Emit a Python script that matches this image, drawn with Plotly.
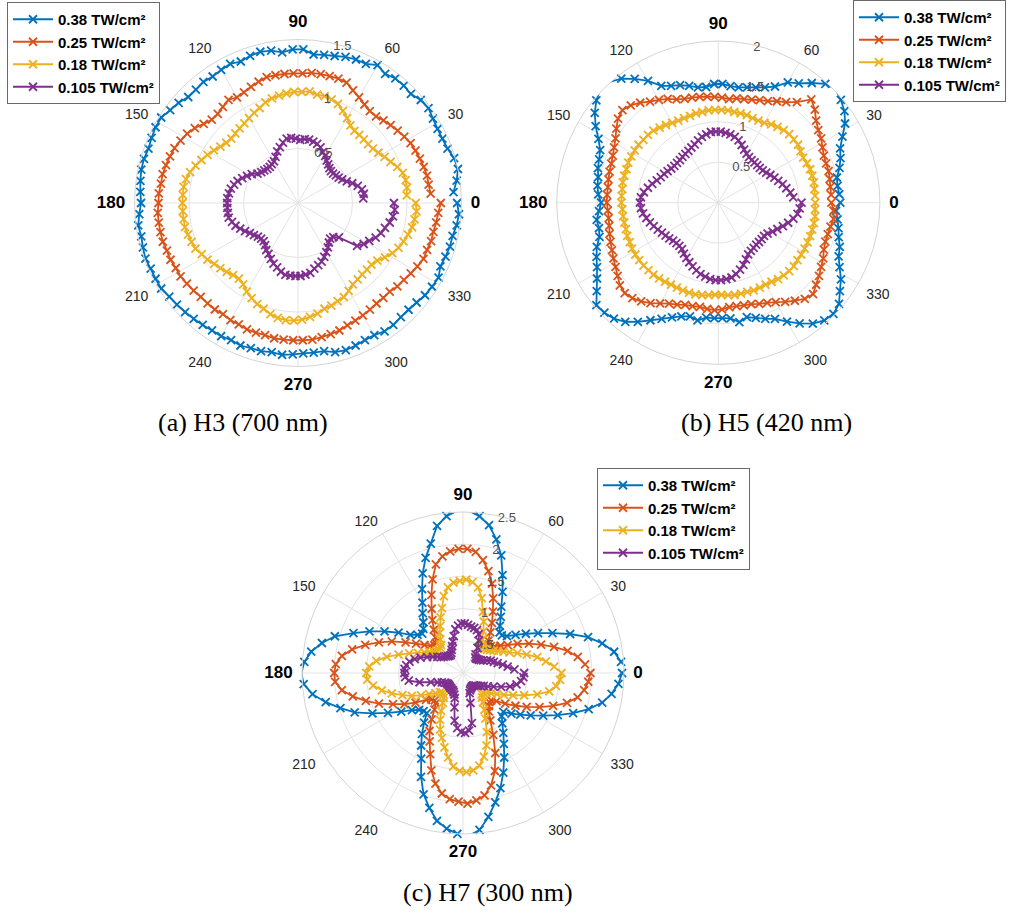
import plotly.graph_objects as go

# Measurement angles (degrees)
ANGLES = list(range(4, 361, 4))

SERIES_NAMES = ["0.38 TW/cm²", "0.25 TW/cm²", "0.18 TW/cm²", "0.105 TW/cm²"]
COLORS = ["#0072BD", "#D95319", "#EDB120", "#7E2F8E"]

# ---------------- (a) H3 (700 nm) ----------------
H3_038 = [1.43, 1.47, 1.50, 1.49, 1.46, 1.45, 1.45, 1.46, 1.48, 1.47,
          1.44, 1.45, 1.45, 1.43, 1.46, 1.42, 1.42, 1.41, 1.39, 1.38,
          1.37, 1.41, 1.41, 1.39, 1.42, 1.43, 1.42, 1.40, 1.42, 1.41,
          1.40, 1.41, 1.40, 1.40, 1.43, 1.45, 1.48, 1.48, 1.47, 1.46,
          1.47, 1.47, 1.46, 1.45, 1.44, 1.46, 1.48, 1.47, 1.48, 1.49,
          1.48, 1.48, 1.48, 1.46, 1.45, 1.44, 1.43, 1.42, 1.41, 1.41,
          1.40, 1.41, 1.40, 1.40, 1.39, 1.40, 1.39, 1.38, 1.38, 1.38,
          1.41, 1.42, 1.41, 1.40, 1.40, 1.42, 1.42, 1.41, 1.41, 1.42,
          1.44, 1.45, 1.46, 1.43, 1.44, 1.45, 1.45, 1.47, 1.48, 1.46]
H3_025 = [1.22, 1.21, 1.21, 1.20, 1.19, 1.18, 1.17, 1.15, 1.13, 1.11,
          1.09, 1.07, 1.07, 1.09, 1.12, 1.15, 1.19, 1.20, 1.20, 1.20,
          1.20, 1.19, 1.19, 1.19, 1.19, 1.19, 1.17, 1.15, 1.13, 1.12,
          1.14, 1.12, 1.10, 1.10, 1.13, 1.17, 1.20, 1.22, 1.24, 1.25,
          1.26, 1.27, 1.27, 1.28, 1.28, 1.29, 1.29, 1.29, 1.29, 1.28,
          1.28, 1.27, 1.27, 1.26, 1.25, 1.24, 1.24, 1.24, 1.23, 1.24,
          1.24, 1.25, 1.25, 1.25, 1.26, 1.26, 1.26, 1.26, 1.26, 1.25,
          1.24, 1.23, 1.21, 1.20, 1.19, 1.18, 1.17, 1.17, 1.17, 1.19,
          1.20, 1.22, 1.24, 1.26, 1.26, 1.27, 1.27, 1.28, 1.29, 1.31]
H3_018 = [1.00, 1.01, 1.01, 1.00, 0.97, 0.93, 0.90, 0.87, 0.85, 0.84,
          0.84, 0.84, 0.84, 0.86, 0.90, 0.94, 0.98, 1.00, 1.01, 1.01,
          1.03, 1.02, 1.02, 1.01, 1.00, 0.99, 0.97, 0.94, 0.92, 0.90,
          0.88, 0.87, 0.86, 0.85, 0.86, 0.88, 0.91, 0.94, 0.97, 1.00,
          1.03, 1.05, 1.06, 1.06, 1.06, 1.06, 1.06, 1.06, 1.05, 1.04,
          1.03, 1.00, 0.98, 0.95, 0.93, 0.91, 0.89, 0.88, 0.90, 0.94,
          0.97, 1.00, 1.02, 1.05, 1.07, 1.08, 1.08, 1.07, 1.05, 1.03,
          1.00, 0.99, 0.97, 0.96, 0.93, 0.90, 0.89, 0.88, 0.88, 0.88,
          0.90, 0.94, 0.98, 1.01, 1.03, 1.05, 1.07, 1.08, 1.09, 1.08]
H3_0105 = [0.60, 0.61, 0.60, 0.57, 0.53, 0.49, 0.46, 0.44, 0.43, 0.42,
           0.42, 0.43, 0.45, 0.47, 0.50, 0.52, 0.55, 0.57, 0.58, 0.59,
           0.59, 0.58, 0.59, 0.60, 0.60, 0.57, 0.54, 0.51, 0.47, 0.44,
           0.43, 0.42, 0.42, 0.43, 0.44, 0.46, 0.50, 0.53, 0.56, 0.59,
           0.61, 0.63, 0.64, 0.65, 0.65, 0.65, 0.65, 0.65, 0.63, 0.61,
           0.58, 0.55, 0.52, 0.50, 0.48, 0.47, 0.47, 0.49, 0.52, 0.54,
           0.57, 0.60, 0.62, 0.65, 0.67, 0.67, 0.67, 0.67, 0.66, 0.65,
           0.62, 0.60, 0.58, 0.55, 0.52, 0.49, 0.46, 0.44, 0.45, 0.49,
           0.67, 0.71, 0.74, 0.78, 0.81, 0.83, 0.86, 0.88, 0.89, 0.88]

# ---------------- (b) H5 (420 nm) ----------------
H5_038 = [1.50, 1.49, 1.50, 1.56, 1.61, 1.65, 1.74, 1.85, 1.93, 1.98,
          2.02, 1.98, 1.88, 1.78, 1.72, 1.60, 1.54, 1.50, 1.47, 1.45,
          1.45, 1.47, 1.47, 1.44, 1.45, 1.49, 1.53, 1.56, 1.61, 1.74,
          1.85, 1.95, 2.01, 2.03, 1.97, 1.89, 1.79, 1.68, 1.60, 1.57,
          1.55, 1.52, 1.51, 1.49, 1.45, 1.48, 1.52, 1.51, 1.53, 1.60,
          1.65, 1.70, 1.77, 1.86, 1.97, 1.96, 1.93, 1.87, 1.78, 1.68,
          1.60, 1.53, 1.48, 1.45, 1.48, 1.43, 1.43, 1.43, 1.44, 1.50,
          1.46, 1.50, 1.55, 1.60, 1.70, 1.80, 1.90, 1.96, 1.98, 1.95,
          1.86, 1.79, 1.70, 1.63, 1.60, 1.55, 1.52, 1.49, 1.46, 1.51]
H5_025 = [1.40, 1.40, 1.41, 1.42, 1.42, 1.43, 1.46, 1.50, 1.53, 1.58,
          1.66, 1.72, 1.58, 1.50, 1.45, 1.40, 1.37, 1.34, 1.32, 1.31,
          1.29, 1.30, 1.31, 1.32, 1.33, 1.34, 1.35, 1.38, 1.43, 1.47,
          1.51, 1.57, 1.62, 1.65, 1.62, 1.56, 1.50, 1.46, 1.43, 1.41,
          1.40, 1.39, 1.38, 1.38, 1.38, 1.37, 1.37, 1.38, 1.40, 1.42,
          1.44, 1.47, 1.50, 1.54, 1.59, 1.61, 1.59, 1.55, 1.50, 1.44,
          1.39, 1.36, 1.33, 1.32, 1.31, 1.32, 1.33, 1.32, 1.30, 1.30,
          1.31, 1.32, 1.35, 1.38, 1.42, 1.48, 1.54, 1.60, 1.63, 1.58,
          1.54, 1.50, 1.47, 1.43, 1.41, 1.41, 1.42, 1.44, 1.43, 1.40]
H5_018 = [1.20, 1.20, 1.21, 1.21, 1.21, 1.20, 1.19, 1.20, 1.22, 1.22,
          1.22, 1.21, 1.19, 1.17, 1.14, 1.13, 1.13, 1.14, 1.14, 1.14,
          1.15, 1.15, 1.15, 1.15, 1.14, 1.14, 1.13, 1.13, 1.13, 1.14,
          1.16, 1.18, 1.20, 1.21, 1.21, 1.22, 1.22, 1.22, 1.22, 1.21,
          1.21, 1.21, 1.20, 1.20, 1.20, 1.19, 1.19, 1.19, 1.19, 1.20,
          1.20, 1.21, 1.21, 1.21, 1.21, 1.20, 1.20, 1.19, 1.18, 1.17,
          1.17, 1.17, 1.17, 1.17, 1.16, 1.15, 1.14, 1.14, 1.15, 1.16,
          1.16, 1.16, 1.17, 1.17, 1.17, 1.18, 1.20, 1.21, 1.22, 1.22,
          1.21, 1.21, 1.21, 1.21, 1.21, 1.21, 1.21, 1.21, 1.20, 1.20]
H5_0105 = [0.93, 0.90, 0.86, 0.83, 0.79, 0.76, 0.73, 0.70, 0.68, 0.67,
           0.67, 0.67, 0.67, 0.68, 0.70, 0.73, 0.77, 0.81, 0.84, 0.86,
           0.87, 0.88, 0.88, 0.88, 0.86, 0.84, 0.81, 0.78, 0.76, 0.74,
           0.73, 0.72, 0.71, 0.71, 0.71, 0.72, 0.74, 0.76, 0.78, 0.81,
           0.85, 0.89, 0.93, 0.96, 0.97, 0.96, 0.94, 0.91, 0.88, 0.85,
           0.82, 0.79, 0.77, 0.75, 0.73, 0.72, 0.72, 0.73, 0.76, 0.79,
           0.82, 0.85, 0.88, 0.91, 0.93, 0.95, 0.96, 0.96, 0.95, 0.94,
           0.91, 0.87, 0.83, 0.78, 0.74, 0.72, 0.71, 0.70, 0.70, 0.70,
           0.70, 0.72, 0.76, 0.80, 0.85, 0.90, 0.95, 0.99, 1.01, 1.03]

# ---------------- (c) H7 (300 nm) ----------------
H7_038 = [2.46, 2.37, 2.21, 2.02, 1.77, 1.52, 1.32, 1.15, 1.01, 0.89,
          0.84, 0.85, 0.93, 1.05, 1.19, 1.40, 1.64, 1.92, 2.14, 2.33,
          2.45, 2.52, 2.52, 2.45, 2.32, 2.07, 1.88, 1.67, 1.45, 1.26,
          1.12, 1.00, 0.92, 0.88, 0.92, 1.01, 1.18, 1.38, 1.59, 1.81,
          2.07, 2.24, 2.38, 2.47, 2.51, 2.48, 2.36, 2.18, 1.98, 1.79,
          1.54, 1.32, 1.13, 0.98, 0.89, 0.85, 0.84, 0.98, 1.14, 1.30,
          1.48, 1.74, 1.98, 2.16, 2.33, 2.43, 2.50, 2.53, 2.45, 2.27,
          2.07, 1.88, 1.67, 1.46, 1.27, 1.12, 0.99, 0.90, 0.87, 0.98,
          1.10, 1.24, 1.41, 1.61, 1.82, 2.03, 2.21, 2.33, 2.42, 2.47]
H7_025 = [1.90, 1.80, 1.66, 1.47, 1.29, 1.12, 0.96, 0.82, 0.72, 0.64,
          0.60, 0.60, 0.64, 0.76, 0.90, 1.06, 1.25, 1.46, 1.63, 1.78,
          1.89, 1.93, 1.93, 1.90, 1.84, 1.74, 1.53, 1.31, 1.11, 0.95,
          0.81, 0.70, 0.63, 0.62, 0.66, 0.74, 0.86, 1.01, 1.21, 1.39,
          1.58, 1.76, 1.90, 1.98, 2.00, 1.99, 1.90, 1.75, 1.57, 1.39,
          1.19, 1.03, 0.87, 0.71, 0.64, 0.61, 0.63, 0.72, 0.87, 1.04,
          1.18, 1.36, 1.59, 1.77, 1.90, 1.97, 2.00, 2.03, 1.99, 1.93,
          1.80, 1.60, 1.34, 1.07, 0.85, 0.72, 0.65, 0.61, 0.61, 0.68,
          0.81, 0.96, 1.12, 1.30, 1.49, 1.68, 1.82, 1.90, 1.95, 1.98]
H7_018 = [1.42, 1.30, 1.18, 1.03, 0.90, 0.79, 0.71, 0.64, 0.59, 0.55,
          0.52, 0.50, 0.50, 0.52, 0.60, 0.72, 0.86, 1.00, 1.20, 1.35,
          1.42, 1.45, 1.43, 1.41, 1.35, 1.23, 1.06, 0.93, 0.81, 0.72,
          0.63, 0.55, 0.52, 0.52, 0.54, 0.57, 0.62, 0.68, 0.77, 0.89,
          1.04, 1.21, 1.36, 1.46, 1.50, 1.49, 1.41, 1.29, 1.15, 1.00,
          0.87, 0.74, 0.62, 0.53, 0.46, 0.44, 0.45, 0.49, 0.56, 0.68,
          0.81, 0.95, 1.06, 1.19, 1.33, 1.46, 1.52, 1.54, 1.52, 1.46,
          1.34, 1.18, 0.99, 0.79, 0.66, 0.55, 0.48, 0.44, 0.44, 0.48,
          0.54, 0.62, 0.72, 0.85, 1.01, 1.20, 1.37, 1.46, 1.51, 1.53]
H7_0105 = [0.80, 0.70, 0.63, 0.56, 0.51, 0.47, 0.42, 0.37, 0.34, 0.32,
           0.31, 0.30, 0.31, 0.35, 0.45, 0.56, 0.65, 0.70, 0.72, 0.73,
           0.75, 0.77, 0.77, 0.74, 0.69, 0.59, 0.51, 0.45, 0.40, 0.36,
           0.34, 0.34, 0.35, 0.37, 0.39, 0.42, 0.47, 0.53, 0.61, 0.70,
           0.78, 0.85, 0.89, 0.91, 0.91, 0.90, 0.85, 0.69, 0.52, 0.42,
           0.36, 0.32, 0.30, 0.29, 0.29, 0.29, 0.30, 0.30, 0.31, 0.31,
           0.33, 0.36, 0.41, 0.55, 0.75, 0.86, 0.92, 0.93, 0.90, 0.79,
           0.48, 0.33, 0.29, 0.27, 0.26, 0.25, 0.25, 0.26, 0.28, 0.31,
           0.34, 0.38, 0.44, 0.52, 0.63, 0.76, 0.85, 0.91, 0.94, 0.95]

PANELS = [
    dict(key="polar", legend="legend", series=[H3_038, H3_025, H3_018, H3_0105],
         rmax=1.5, rticks=[0.5, 1, 1.5]),
    dict(key="polar2", legend="legend2", series=[H5_038, H5_025, H5_018, H5_0105],
         rmax=2.0, rticks=[0.5, 1, 1.5, 2]),
    dict(key="polar3", legend="legend3", series=[H7_038, H7_025, H7_018, H7_0105],
         rmax=2.5, rticks=[0.5, 1, 1.5, 2, 2.5]),
]

ANG_TICKS = [0, 30, 60, 90, 120, 150, 180, 210, 240, 270, 300, 330]
CAPTIONS = ["(a) H3 (700 nm)", "(b) H5 (420 nm)", "(c) H7 (300 nm)"]

W, H = 1013, 916
GRID = "#e3e3e3"
TXT = "#262626"


def ang_label(v):
    if v % 90 == 0:
        return "<span style='font-size:17px;color:#000000'><b>%d</b></span>" % v
    return str(v)


def rlabel(v):
    return ("%g" % v)


fig = go.Figure()
for p in PANELS:
    for name, col, r in zip(SERIES_NAMES, COLORS, p["series"]):
        fig.add_trace(go.Scatterpolar(
            r=r, theta=ANGLES, mode="lines+markers", name=name,
            subplot=p["key"], legend=p["legend"],
            line=dict(color=col, width=1.8),
            marker=dict(symbol="x-thin", size=8, color=col,
                        line=dict(color=col, width=1.8)),
        ))


def domain_from(cx, cy, rad):
    return dict(x=[(cx - rad) / W, (cx + rad) / W],
                y=[1 - (cy + rad) / H, 1 - (cy - rad) / H])


DOMAINS = [domain_from(298, 203, 163.5),
           domain_from(718.3, 202.7, 161.6),
           domain_from(463, 673, 161)]

layout = dict(
    width=W, height=H, autosize=False,
    margin=dict(l=0, r=0, t=0, b=0),
    paper_bgcolor="white", plot_bgcolor="white",
    font=dict(family="Liberation Sans, Arial, sans-serif", color=TXT),
)
for p, dom in zip(PANELS, DOMAINS):
    layout[p["key"]] = dict(
        domain=dom,
        bgcolor="white",
        radialaxis=dict(range=[0, p["rmax"]], tickvals=p["rticks"],
                        ticktext=[rlabel(v) for v in p["rticks"]],
                        angle=80, tickangle=80, showline=False, ticks="",
                        gridcolor=GRID, gridwidth=1,
                        tickfont=dict(size=13, color="#505050")),
        angularaxis=dict(tickvals=ANG_TICKS,
                         ticktext=[ang_label(v) for v in ANG_TICKS],
                         direction="counterclockwise", rotation=0,
                         gridcolor=GRID, gridwidth=1,
                         showline=True, linecolor="#d4d4d4", linewidth=1,
                         ticks="outside", ticklen=6, tickcolor="rgba(0,0,0,0)",
                         tickfont=dict(size=14, color=TXT)),
    )

legend_common = dict(bgcolor="white", bordercolor="#6a6a6a", borderwidth=1,
                     font=dict(size=15, color="#000000", weight="bold",
                               family="Liberation Sans, Arial, sans-serif"),
                     itemwidth=40, xanchor="left", yanchor="top",
                     tracegroupgap=0)
layout["legend"] = dict(legend_common, x=7 / W, y=1 - 2 / H)
layout["legend2"] = dict(legend_common, x=853 / W, y=1.0)
layout["legend3"] = dict(legend_common, x=597 / W, y=1 - 468 / H)

fig.update_layout(**layout)

CAP_POS = [(243, 422), (766, 422), (488, 892)]
for txt, (cx, cy) in zip(CAPTIONS, CAP_POS):
    fig.add_annotation(x=cx / W, y=1 - cy / H, xref="paper", yref="paper",
                       text=txt, showarrow=False, xanchor="center", yanchor="middle",
                       font=dict(family="Liberation Serif, DejaVu Serif, serif",
                                 size=26, color="#000000"))

fig.write_html("out.html", config={"displayModeBar": False},
               post_script="document.body.style.margin='0px';document.body.style.overflow='hidden';")
